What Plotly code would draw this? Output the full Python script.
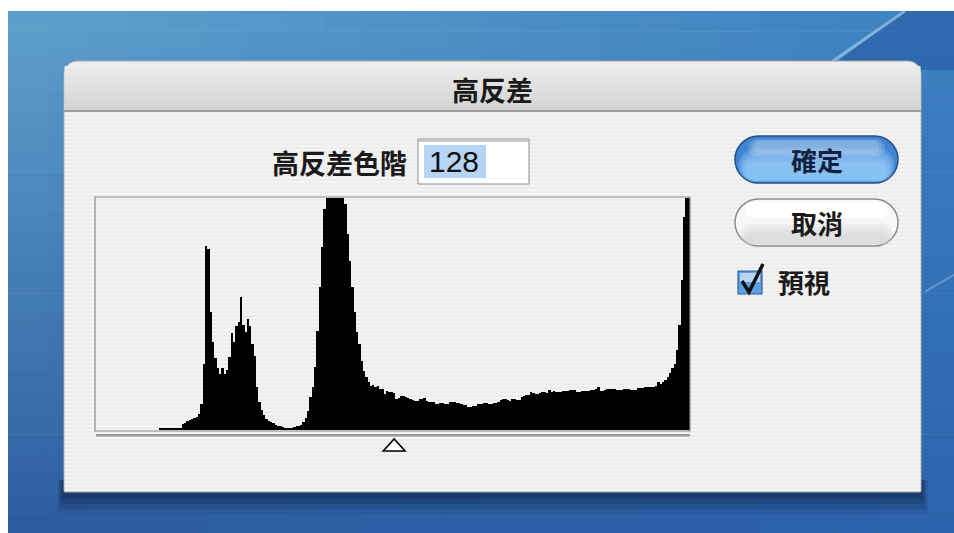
import plotly.graph_objects as go

W, H = 954, 533

# ---------------- data ----------------
levels = list(range(256))
counts = (
    [0] * 27
    + [1.5] * 10
    + [6, 7, 9, 10, 11, 12, 13, 16, 26, 66]
    + [184, 181, 118, 88, 72, 62, 56, 62, 56, 60]
    + [73, 97, 88, 104, 108, 133, 105, 98, 111, 104]
    + [86, 74, 43, 28, 20, 15, 11, 9, 8, 7]
    + [5, 4, 4, 3, 2, 2, 2, 2, 3, 4]
    + [4, 5, 8, 12, 19, 33, 43, 63, 99, 143]
    + [183, 221, 240, 252, 260, 262, 258, 250, 244, 236]
    + [226, 196, 169, 143, 118, 98, 86, 69, 59, 53]
    + [48, 44, 45, 43, 44, 41, 41, 36, 39, 38]
    + [38, 37, 31, 32, 34, 34, 33, 32, 31, 30]
    + [29, 29, 31, 31, 32, 29, 28, 28, 28, 26]
    + [26, 27, 27, 26, 26, 28, 28, 28, 27, 27]
    + [26, 25, 25, 23, 23, 24, 24, 26, 26, 26]
    + [27, 27, 26, 26, 27, 27, 28, 30, 31, 31]
    + [30, 29, 31, 31, 30, 30, 33, 34, 35, 35]
    + [38, 37, 36, 36, 37, 38, 38, 37, 40, 38]
    + [39, 38, 38, 38, 39, 39, 39, 40, 40, 40]
    + [38, 38, 39, 39, 39, 39, 40, 40, 41, 43]
    + [39, 39, 40, 41, 41, 41, 41, 40, 40, 40]
    + [41, 41, 41, 40, 40, 40, 42, 42, 42, 43]
    + [43, 43, 43, 43, 44, 48, 46, 48, 50, 53]
    + [57, 62, 66, 80, 105, 150, 213, 240, 250]
)
assert len(counts) == 256
count_max = 232
threshold_level = 128

dialog_title = "高反差"
level_label = "高反差色階"
ok_label = "確定"
cancel_label = "取消"
preview_label = "預視"

CJK = "Noto Sans CJK TC"

# body margin is removed in the page (post_script), so no offset
OX, OY = 0, 0


# ---------------- helpers (pixel -> paper) ----------------
def X(x):
    return (x - OX) / W


def Y(y):
    return 1 - (y - OY) / H


def P(x, y):
    return f"{X(x):.5f},{Y(y):.5f}"


shapes = []


def rect(x0, y0, x1, y1, fill, line=None, lw=1, layer="below"):
    shapes.append(dict(type="rect", xref="paper", yref="paper",
                       x0=X(x0), x1=X(x1), y0=Y(y1), y1=Y(y0),
                       fillcolor=fill, layer=layer,
                       line=dict(width=lw if line else 0, color=line or "rgba(0,0,0,0)")))


def path(d, fill="rgba(0,0,0,0)", line=None, lw=1, layer="below"):
    shapes.append(dict(type="path", xref="paper", yref="paper", path=d,
                       fillcolor=fill, layer=layer,
                       line=dict(width=lw if line else 0, color=line or "rgba(0,0,0,0)")))


def pill_d(x0, y0, x1, y1):
    r = (y1 - y0) / 2
    k = 0.5523 * r
    return (f"M{P(x0 + r, y0)} L{P(x1 - r, y0)} "
            f"C{P(x1 - r + k, y0)} {P(x1, y0 + r - k)} {P(x1, y0 + r)} "
            f"C{P(x1, y0 + r + k)} {P(x1 - r + k, y1)} {P(x1 - r, y1)} "
            f"L{P(x0 + r, y1)} "
            f"C{P(x0 + r - k, y1)} {P(x0, y0 + r + k)} {P(x0, y0 + r)} "
            f"C{P(x0, y0 + r - k)} {P(x0 + r - k, y0)} {P(x0 + r, y0)} Z")


def rrect_d(x0, y0, x1, y1, rt, rb):
    kt = 0.5523 * rt
    kb = 0.5523 * rb
    return (f"M{P(x0 + rt, y0)} L{P(x1 - rt, y0)} "
            f"C{P(x1 - rt + kt, y0)} {P(x1, y0 + rt - kt)} {P(x1, y0 + rt)} "
            f"L{P(x1, y1 - rb)} "
            f"C{P(x1, y1 - rb + kb)} {P(x1 - rb + kb, y1)} {P(x1 - rb, y1)} "
            f"L{P(x0 + rb, y1)} "
            f"C{P(x0 + rb - kb, y1)} {P(x0, y1 - rb + kb)} {P(x0, y1 - rb)} "
            f"L{P(x0, y0 + rt)} "
            f"C{P(x0, y0 + rt - kt)} {P(x0 + rt - kt, y0)} {P(x0 + rt, y0)} Z")


def mix(c1, c2, t):
    a = [int(c1[i:i + 2], 16) for i in (1, 3, 5)]
    b = [int(c2[i:i + 2], 16) for i in (1, 3, 5)]
    return "#" + "".join(f"{round(a[i] + (b[i] - a[i]) * t):02x}" for i in range(3))


# ---------------- desktop background ----------------
TL, TR, BL, BR = "#5fa0cc", "#3c82c1", "#2b5b9f", "#2c62ac"
cols, rows = 24, 26
x_start, y_start = 8, 11
x_end, y_end = W + 2, H + 2
cw = (x_end - x_start) / cols
rh = (y_end - y_start) / rows
for r in range(rows):
    ty = (r + 0.5) / rows
    left = mix(TL, BL, ty)
    right = mix(TR, BR, ty)
    for c in range(cols):
        tx = (c + 0.5) / cols
        rect(x_start + c * cw, y_start + r * rh, x_start + (c + 1) * cw + 0.6,
             y_start + (r + 1) * rh + 0.6, mix(left, right, tx))
# diagonal streak in the top-right
path(f"M{P(903, 11)} L{P(956, 11)} L{P(956, 70)} L{P(827, 70)} Z", fill="rgba(20,60,140,0.35)")
path(f"M{P(905, 11)} L{P(826, 66)}", line="rgba(190,220,245,0.55)", lw=3)
path(f"M{P(925, 292)} C{P(935, 285)} {P(945, 280)} {P(956, 274)}", line="rgba(190,220,245,0.35)", lw=2)

# ---------------- dialog ----------------
for i, a in enumerate([0.10, 0.14, 0.18, 0.22]):
    off = 22 - i * 5
    rect(64 - off * 0.3, 480, 921 + off * 0.3, 492 + off, "rgba(8,25,60,%.2f)" % a)
path(rrect_d(64, 61, 921, 492, 13, 1), fill="#ececec", line="#a9a9a9", lw=1)
# title bar gradient
n = 14
for i in range(n):
    y0 = 66 + i * (111 - 66) / n
    y1 = 66 + (i + 1) * (111 - 66) / n + 0.5
    rect(64.5, y0, 920.5, y1, mix("#ebebeb", "#d3d3d3", i / (n - 1)))
rect(64, 110, 921, 112, "#9e9e9e")
# body pinstripes
y = 113
while y < 491:
    rect(64.5, y, 920.5, y + 2, "#f4f4f4")
    y += 4

# ---------------- text field ----------------
rect(418, 139, 529, 184, "#ffffff", line="#8c8c8c", lw=1)
rect(419, 140, 528, 142, "#c8c8c8")
rect(424, 145, 486, 178, "#b5d4f6")

# ---------------- buttons ----------------
# default (blue) button: layered pills to fake the aqua gradient
path(pill_d(735, 136, 898, 183), fill="#3f84d0", line="#25508e", lw=1.5)
for i in range(6):
    t = i / 5
    path(pill_d(738 + i * 1.5, 148 + i * 2.8, 895 - i * 1.5, 182 - i * 0.3),
         fill=f"rgba(150,205,250,{0.22 + 0.08 * t:.2f})")
for i in range(3):
    path(pill_d(748 + i * 3, 139 + i, 885 - i * 3, 157 - i * 2), fill="rgba(215,233,252,0.18)")

path(pill_d(735, 199, 898, 246), fill="#f7f7f7", line="#8e8e8e", lw=1.5)
for i in range(4):
    path(pill_d(740 + i * 2, 224 + i * 3, 893 - i * 2, 245 - i * 0.3), fill="rgba(210,210,210,0.25)")
path(pill_d(745, 202, 888, 218), fill="rgba(255,255,255,0.9)")

# checkbox
rect(738, 271, 762, 294, "#5f9fe0", line="#2f5f9f", lw=1.2)
rect(740, 273, 760, 282, "rgba(230,242,252,0.65)")
path(f"M{P(742, 281)} L{P(749, 292)} L{P(763, 264)}", line="#111111", lw=3.5, layer="above")

# ---------------- histogram frame & slider ----------------
rect(95, 197, 690, 431, "rgba(0,0,0,0)", line="#8a8a8a", lw=1.2, layer="above")
rect(96, 434, 690, 436.5, "#9a9a9a")

# ---------------- figure ----------------
fig = go.Figure()
fig.add_trace(go.Bar(x=levels, y=counts, marker=dict(color="#000000", line=dict(width=0)),
                     width=1.02, hoverinfo="skip", showlegend=False))

# threshold slider triangle drawn at level 128 via the x axis
tri_half = 4.7
path(f"M{threshold_level - tri_half},{Y(451):.5f} L{threshold_level + tri_half},{Y(451):.5f} "
     f"L{threshold_level},{Y(439):.5f} Z", fill="#ffffff", line="#000000", lw=1.6, layer="above")
shapes[-1]["xref"] = "x"

annotations = [
    dict(x=X(492), y=Y(89), text=f"<b>{dialog_title}</b>", font=dict(family=CJK, size=27, color="#1a1a1a")),
    dict(x=X(409), y=Y(162), text=f"<b>{level_label}</b>", xanchor="right",
         font=dict(family=CJK, size=27, color="#1a1a1a")),
    dict(x=X(427), y=Y(161), text=str(threshold_level), xanchor="left",
         font=dict(family="Liberation Sans", size=30, color="#111111")),
    dict(x=X(817), y=Y(159), text=f"<b>{ok_label}</b>", font=dict(family=CJK, size=26, color="#14213d")),
    dict(x=X(817), y=Y(222), text=f"<b>{cancel_label}</b>", font=dict(family=CJK, size=26, color="#1a1a1a")),
    dict(x=X(776), y=Y(281), text=f"<b>{preview_label}</b>", xanchor="left",
         font=dict(family=CJK, size=26, color="#1a1a1a")),
]
for a in annotations:
    a.update(xref="paper", yref="paper", showarrow=False)
    a.setdefault("xanchor", "center")
    a.setdefault("yanchor", "middle")

fig.update_layout(
    width=W, height=H, margin=dict(l=0, r=0, t=0, b=0),
    paper_bgcolor="#ffffff", plot_bgcolor="#ffffff",
    bargap=0, showlegend=False,
    xaxis=dict(domain=[X(96), X(690)], range=[-0.5, 255.5], visible=False, fixedrange=True),
    yaxis=dict(domain=[Y(430), Y(198)], range=[0, count_max], visible=False, fixedrange=True),
    shapes=shapes, annotations=annotations,
)
fig.write_html(
    "out.html",
    config={"displayModeBar": False},
    post_script=("document.body.style.margin='0';"
                 "document.documentElement.style.overflow='hidden';"
                 "document.body.style.overflow='hidden';"),
)
